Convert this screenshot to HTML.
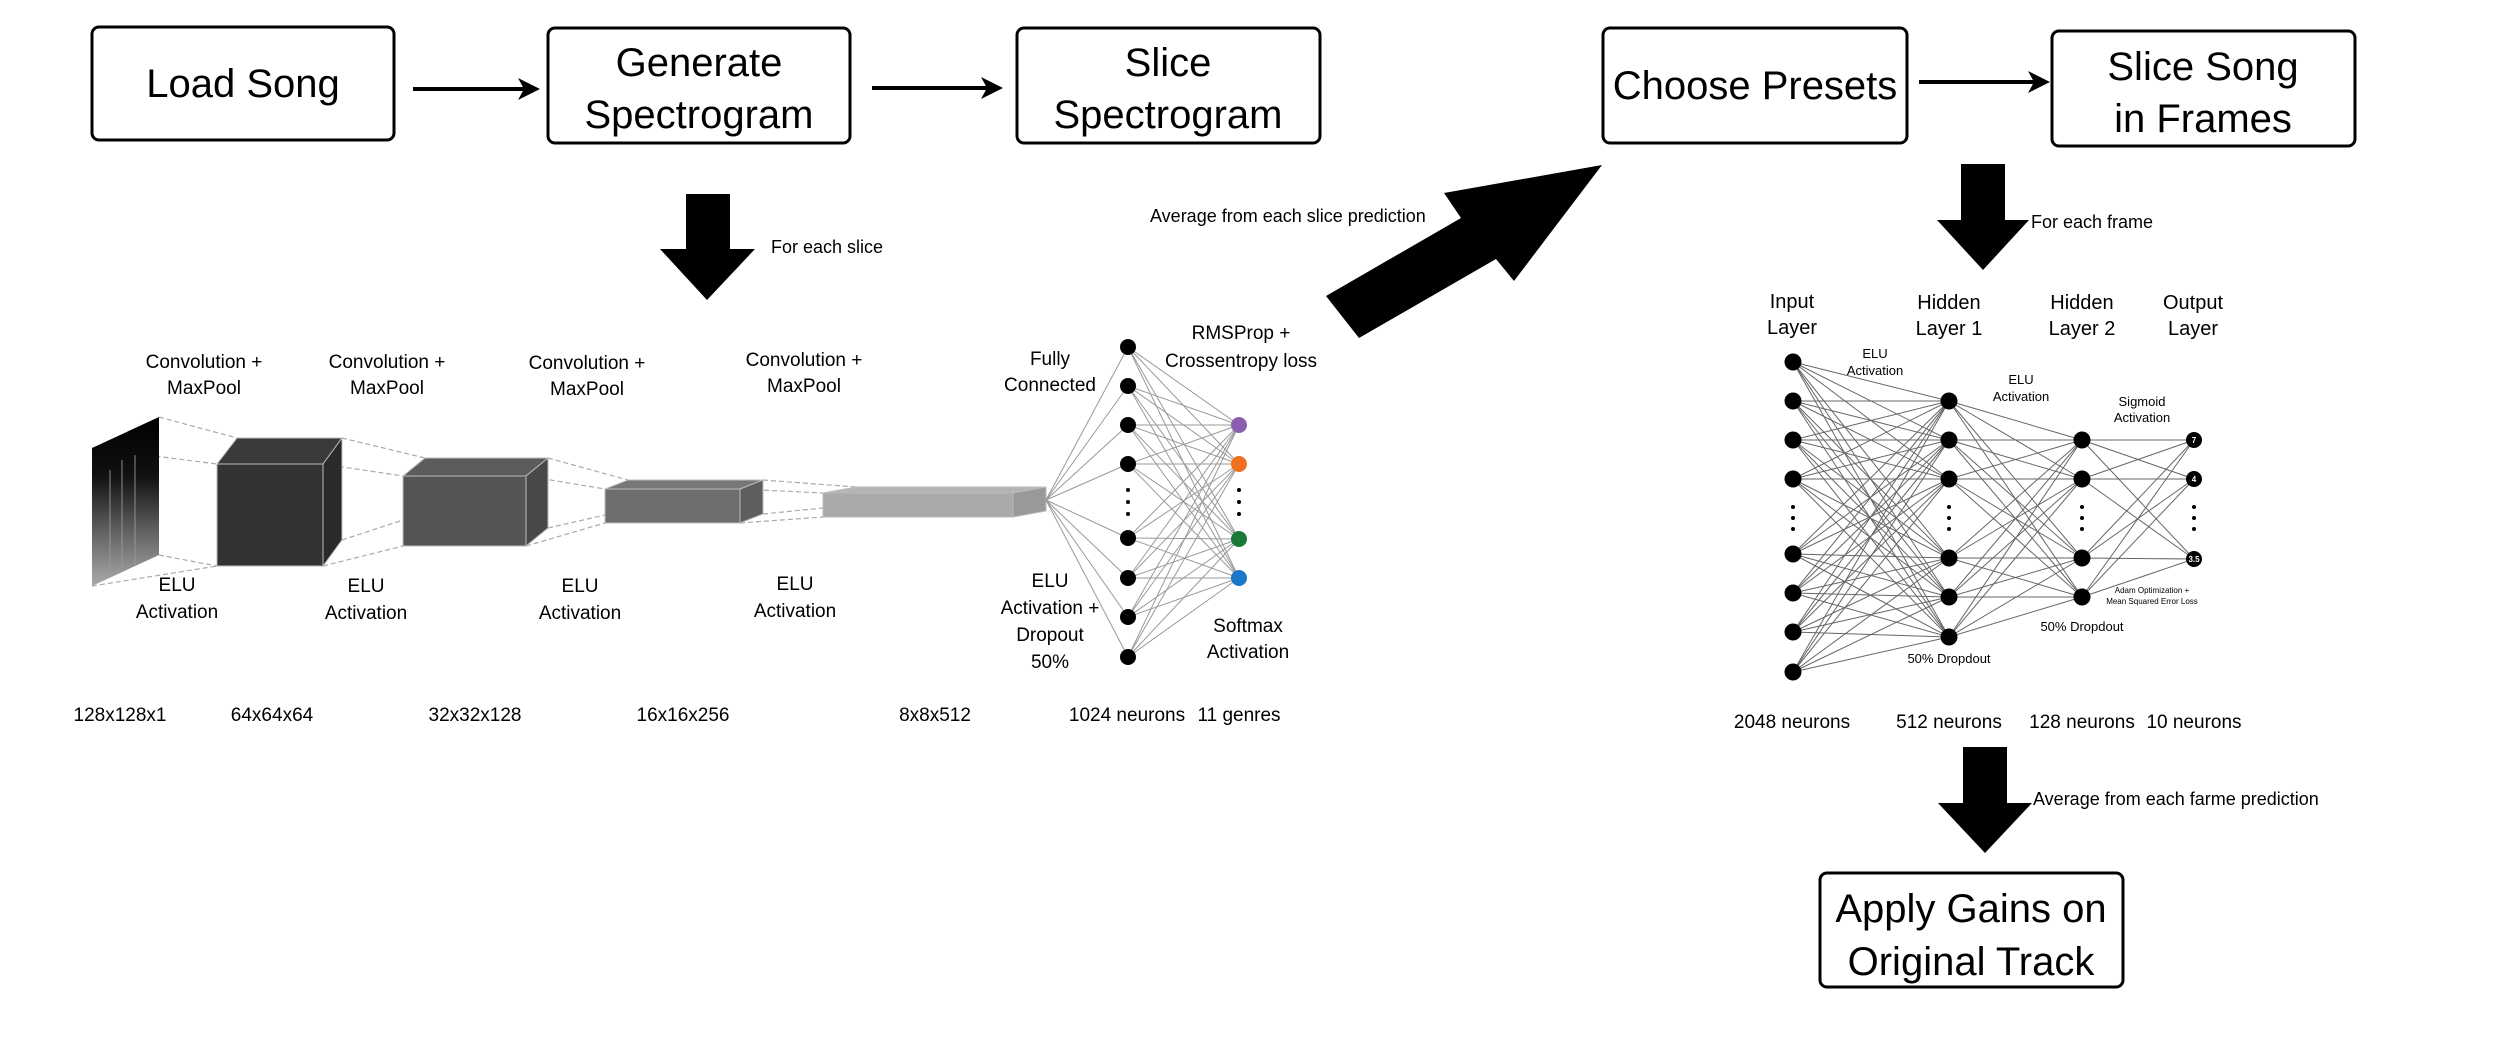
<!DOCTYPE html>
<html><head><meta charset="utf-8">
<style>
html,body{margin:0;padding:0;background:#fff;}
svg{display:block;font-family:"Liberation Sans",sans-serif;}
</style></head><body>
<svg id="s" width="2500" height="1042" viewBox="0 0 2500 1042" xmlns="http://www.w3.org/2000/svg">
<defs>
<linearGradient id="spec" x1="0" y1="0" x2="0" y2="1">
<stop offset="0" stop-color="#000"/><stop offset="0.35" stop-color="#111"/><stop offset="0.7" stop-color="#666"/><stop offset="1" stop-color="#aaa"/>
</linearGradient>
</defs>
<g fill="none" stroke="#000" stroke-width="3">
<rect x="92" y="27" width="302" height="113" rx="7"/>
<rect x="548" y="28" width="302" height="115" rx="7"/>
<rect x="1017" y="28" width="303" height="115" rx="7"/>
<rect x="1603" y="28" width="304" height="115" rx="7"/>
<rect x="2052" y="31" width="303" height="115" rx="7"/>
<rect x="1820" y="873" width="303" height="114" rx="7"/>
</g>
<g font-size="40" text-anchor="middle" fill="#000">
<text x="243" y="97">Load Song</text>
<text x="699" y="76">Generate</text><text x="699" y="128">Spectrogram</text>
<text x="1168" y="76">Slice</text><text x="1168" y="128">Spectrogram</text>
<text x="1755" y="99">Choose Presets</text>
<text x="2203" y="80">Slice Song</text><text x="2203" y="132">in Frames</text>
<text x="1971" y="922">Apply Gains on</text><text x="1971" y="975">Original Track</text>
</g>
<g stroke="#000" stroke-width="4">
<line x1="413" y1="89" x2="525" y2="89"/><line x1="872" y1="88" x2="988" y2="88"/><line x1="1919" y1="82" x2="2035" y2="82"/>
</g>
<g fill="#000">
<polygon points="540,89 518,78 524,89 518,100"/>
<polygon points="1003,88 981,77 987,88 981,99"/>
<polygon points="2050,82 2028,71 2034,82 2028,93"/>
<polygon points="686,194 730,194 730,249 755,249 707,300 660,249 686,249"/>
<polygon points="1961,164 2005,164 2005,220 2029,220 1983,270 1937,220 1961,220"/>
<polygon points="1963,747 2007,747 2007,803 2032,803 1985,853 1938,803 1963,803"/>
<polygon points="1602,165 1514,281 1496,259 1359,338 1326,296 1461,218 1444,193"/>
</g>
<g font-size="18" fill="#000">
<text x="771" y="253">For each slice</text>
<text x="1150" y="222">Average from each slice prediction</text>
<text x="2031" y="228">For each frame</text>
<text x="2033" y="805">Average from each farme prediction</text>
</g>
<!-- CNN -->
<g stroke="#aaa" stroke-width="1.2" stroke-dasharray="5,3" fill="none">
<line x1="159" y1="417" x2="237" y2="438"/><line x1="159" y1="555" x2="217" y2="566"/><line x1="92" y1="448" x2="217" y2="464"/><line x1="92" y1="586" x2="217" y2="566"/>
<line x1="342" y1="438" x2="425" y2="458"/><line x1="323" y1="566" x2="403" y2="546"/><line x1="323" y1="464" x2="403" y2="476"/><line x1="342" y1="540" x2="403" y2="520"/>
<line x1="548" y1="458" x2="628" y2="480"/><line x1="526" y1="546" x2="605" y2="523"/><line x1="526" y1="476" x2="605" y2="489"/><line x1="548" y1="528" x2="605" y2="515"/>
<line x1="763" y1="480" x2="856" y2="487"/><line x1="740" y1="523" x2="823" y2="517"/><line x1="740" y1="489" x2="823" y2="493"/><line x1="763" y1="514" x2="823" y2="508"/>
</g>
<polygon points="92,448 159,417 159,555 92,586" fill="url(#spec)"/>
<g stroke="#999" stroke-width="1.5" opacity="0.6"><line x1="110" y1="470" x2="110" y2="575"/><line x1="122" y1="460" x2="122" y2="570"/><line x1="135" y1="455" x2="135" y2="565"/></g>
<g stroke="#bbb" stroke-width="1">
<polygon points="217,464 237,438 342,438 323,464" fill="#3a3a3a"/><polygon points="323,464 342,438 342,540 323,566" fill="#2a2a2a"/><rect x="217" y="464" width="106" height="102" fill="#333"/>
<polygon points="403,476 425,458 548,458 526,476" fill="#5c5c5c"/><polygon points="526,476 548,458 548,528 526,546" fill="#484848"/><rect x="403" y="476" width="123" height="70" fill="#555"/>
<polygon points="605,489 628,480 763,480 740,489" fill="#777"/><polygon points="740,489 763,480 763,514 740,523" fill="#5e5e5e"/><rect x="605" y="489" width="135" height="34" fill="#6e6e6e"/>
<polygon points="823,493 856,487 1046,487 1013,493" fill="#b5b5b5"/><polygon points="1013,493 1046,487 1046,511 1013,517" fill="#999"/><rect x="823" y="493" width="190" height="24" fill="#aaa"/>
</g>
<g id="cnnnet" stroke="#999" stroke-width="1"></g>
<g font-size="19" text-anchor="middle" fill="#000">
<text x="204" y="368">Convolution +</text><text x="204" y="394">MaxPool</text>
<text x="387" y="368">Convolution +</text><text x="387" y="394">MaxPool</text>
<text x="587" y="369">Convolution +</text><text x="587" y="395">MaxPool</text>
<text x="804" y="366">Convolution +</text><text x="804" y="392">MaxPool</text>
<text x="1050" y="365">Fully</text><text x="1050" y="391">Connected</text>
<text x="1241" y="339">RMSProp +</text><text x="1241" y="367">Crossentropy loss</text>
<text x="177" y="591">ELU</text><text x="177" y="618">Activation</text>
<text x="366" y="592">ELU</text><text x="366" y="619">Activation</text>
<text x="580" y="592">ELU</text><text x="580" y="619">Activation</text>
<text x="795" y="590">ELU</text><text x="795" y="617">Activation</text>
<text x="1050" y="587">ELU</text><text x="1050" y="614">Activation +</text><text x="1050" y="641">Dropout</text><text x="1050" y="668">50%</text>
<text x="1248" y="632">Softmax</text><text x="1248" y="658">Activation</text>
<text x="120" y="721">128x128x1</text><text x="272" y="721">64x64x64</text><text x="475" y="721">32x32x128</text>
<text x="683" y="721">16x16x256</text><text x="935" y="721">8x8x512</text><text x="1127" y="721">1024 neurons</text><text x="1239" y="721">11 genres</text>
</g>
<g id="rnet" stroke="#666" stroke-width="1"></g>
<g font-size="20" text-anchor="middle" fill="#000">
<text x="1792" y="308">Input</text><text x="1792" y="334">Layer</text>
<text x="1949" y="309">Hidden</text><text x="1949" y="335">Layer 1</text>
<text x="2082" y="309">Hidden</text><text x="2082" y="335">Layer 2</text>
<text x="2193" y="309">Output</text><text x="2193" y="335">Layer</text>
<text x="1792" y="728" font-size="19">2048 neurons</text><text x="1949" y="728" font-size="19">512 neurons</text>
<text x="2082" y="728" font-size="19">128 neurons</text><text x="2194" y="728" font-size="19">10 neurons</text>
</g>
<g font-size="13" text-anchor="middle" fill="#000">
<text x="1875" y="358">ELU</text><text x="1875" y="375">Activation</text>
<text x="2021" y="384">ELU</text><text x="2021" y="401">Activation</text>
<text x="2142" y="406">Sigmoid</text><text x="2142" y="422">Activation</text>
<text x="1949" y="663">50% Dropdout</text><text x="2082" y="631">50% Dropdout</text>
<text x="2152" y="593" font-size="8">Adam Optimization +</text><text x="2152" y="604" font-size="8">Mean Squared Error Loss</text>
</g>
<g id="nodes"></g>
</svg>
<script>
var NS="http://www.w3.org/2000/svg";
function el(p,t,a){var e=document.createElementNS(NS,t);for(var k in a)e.setAttribute(k,a[k]);document.getElementById(p).appendChild(e);return e;}
function links(p,x1,ys1,x2,ys2){ys1.forEach(function(a){ys2.forEach(function(b){el(p,"line",{x1:x1,y1:a,x2:x2,y2:b});});});}
var fc=[347,386,425,464,538,578,617,657], outc=[425,464,539,578];
fc.forEach(function(y){el("cnnnet","line",{x1:1046,y1:500,x2:1128,y2:y});});
links("cnnnet",1128,fc,1239,outc);
fc.forEach(function(y){el("nodes","circle",{cx:1128,cy:y,r:8,fill:"#000"});});
var cols=["#8a5fb0","#f07020","#1a7a3a","#1a78c8"];
outc.forEach(function(y,i){el("nodes","circle",{cx:1239,cy:y,r:8,fill:cols[i]});});
[490,502,514].forEach(function(y){el("nodes","circle",{cx:1128,cy:y,r:2,fill:"#000"});el("nodes","circle",{cx:1239,cy:y,r:2,fill:"#000"});});
var L0=[362,401,440,479,554,593,632,672],L1=[401,440,479,558,597,637],L2=[440,479,558,597],L3=[440,479,559];
links("rnet",1793,L0,1949,L1);links("rnet",1949,L1,2082,L2);links("rnet",2082,L2,2194,L3);
[[1793,L0],[1949,L1],[2082,L2]].forEach(function(l){l[1].forEach(function(y){el("nodes","circle",{cx:l[0],cy:y,r:8.5,fill:"#000"});});});
L3.forEach(function(y){el("nodes","circle",{cx:2194,cy:y,r:8,fill:"#000"});});
var labs=["7","4","3.5"];
L3.forEach(function(y,i){var t=el("nodes","text",{x:2194,y:y+3,"font-size":8,fill:"#fff","text-anchor":"middle","font-weight":"bold"});t.textContent=labs[i];});
[[1793,507],[1949,507],[2082,507],[2194,507]].forEach(function(p){[0,11,22].forEach(function(d){el("nodes","circle",{cx:p[0],cy:p[1]+d,r:2,fill:"#000"});});});
</script>
</body></html>
